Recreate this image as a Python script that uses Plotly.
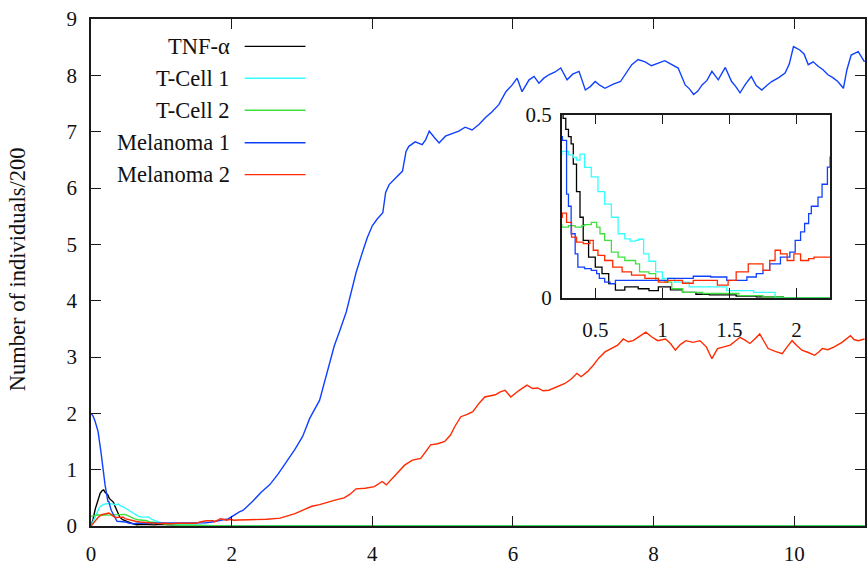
import plotly.graph_objects as go

# ---------------- data ----------------
t_tnf = [0, 0.03, 0.06, 0.1, 0.13, 0.16, 0.18, 0.2, 0.22, 0.24, 0.26, 0.28, 0.30, 0.32, 0.336,
         0.36, 0.386, 0.41, 0.45, 0.50, 0.55, 0.60, 0.65, 0.72, 0.82, 0.90, 0.97, 1.06, 1.15,
         1.25, 1.35, 1.45, 1.55, 1.7, 1.9, 2.5, 4, 6, 8, 11]
v_tnf = [0, 0.12, 0.3, 0.47, 0.58, 0.63, 0.64, 0.6, 0.58, 0.55, 0.49, 0.46, 0.44, 0.42, 0.365,
         0.29, 0.22, 0.157, 0.111, 0.084, 0.066, 0.039, 0.021, 0.03, 0.025, 0.02, 0.03, 0.022, 0.015,
         0.01, 0.008, 0.008, 0.005, 0.003, 0, 0, 0, 0, 0, 0]

t_tc1 = [0, 0.04, 0.08, 0.12, 0.16, 0.2, 0.25, 0.30, 0.336, 0.36, 0.386, 0.42, 0.47, 0.52, 0.57,
         0.62, 0.67, 0.72, 0.76, 0.80, 0.82, 0.86, 0.90, 0.95, 1.0, 1.09, 1.2, 1.48, 1.68, 1.84,
         2.5, 11]
v_tc1 = [0, 0.1, 0.22, 0.33, 0.37, 0.39, 0.40, 0.39, 0.383, 0.376, 0.392, 0.356, 0.33, 0.29, 0.256,
         0.22, 0.175, 0.161, 0.155, 0.157, 0.16, 0.12, 0.10, 0.071, 0.053, 0.043, 0.03, 0.02, 0.015, 0,
         0, 0]

t_tc2 = [0, 0.05, 0.1, 0.15, 0.2, 0.25, 0.30, 0.35, 0.40, 0.42, 0.47, 0.51, 0.535, 0.57, 0.62,
         0.67, 0.72, 0.80, 0.83, 0.90, 0.95, 1.02, 1.07, 1.15, 1.3, 1.57, 1.75, 1.9, 2.5, 11]
v_tc2 = [0.17, 0.18, 0.2, 0.19, 0.2, 0.193, 0.197, 0.193, 0.197, 0.2, 0.206, 0.193, 0.175, 0.157, 0.125,
         0.111, 0.102, 0.093, 0.071, 0.066, 0.048, 0.043, 0.025, 0.015, 0.012, 0.006, 0.003, 0, 0, 0]

t_mel1 = [0, 0.03, 0.06, 0.1, 0.14, 0.17, 0.2, 0.24, 0.255, 0.286, 0.30, 0.32, 0.35, 0.37, 0.42,
          0.47, 0.51, 0.53, 0.57, 0.61, 0.65, 0.8, 1.04, 1.23, 1.36, 1.48, 1.55, 1.63, 1.70, 1.75,
          1.80, 1.88, 1.95, 1.99, 2.03, 2.06, 2.09, 2.11, 2.16, 2.19, 2.23, 2.25,
          2.30, 2.42, 2.54, 2.66, 2.78, 2.90, 3.01, 3.11, 3.25, 3.32, 3.39, 3.46, 3.53, 3.63, 3.70,
          3.77, 3.86, 3.93, 4.0, 4.07, 4.15, 4.19, 4.24, 4.33, 4.43, 4.48, 4.52, 4.61, 4.71, 4.76,
          4.81, 4.88, 4.95, 5.04, 5.13, 5.23, 5.32, 5.42, 5.52, 5.61, 5.70, 5.80, 5.90, 5.99, 6.06,
          6.13, 6.23, 6.30, 6.37, 6.44, 6.51, 6.60, 6.68, 6.77, 6.85, 6.94, 7.03, 7.10, 7.17, 7.24,
          7.31, 7.42, 7.53, 7.61, 7.69, 7.78, 7.88, 7.97, 8.07, 8.16, 8.26, 8.35, 8.45, 8.51, 8.57,
          8.63, 8.69, 8.76, 8.83, 8.92, 9.02, 9.11, 9.17, 9.23, 9.31, 9.39, 9.46, 9.54, 9.61, 9.68,
          9.78, 9.87, 9.93, 9.99, 10.08, 10.14, 10.20, 10.27, 10.34, 10.41, 10.48, 10.55, 10.62,
          10.70, 10.75, 10.81, 10.91, 10.96, 11.0]
v_mel1 = [2.0, 1.95, 1.85, 1.68, 1.33, 1.03, 0.73, 0.44, 0.43, 0.283, 0.25, 0.175, 0.12, 0.084, 0.08,
          0.075, 0.066, 0.053, 0.043, 0.039, 0.048, 0.048, 0.053, 0.059, 0.057, 0.048, 0.048, 0.057, 0.066, 0.075,
          0.093, 0.111, 0.125, 0.157, 0.18, 0.203, 0.23, 0.25, 0.275, 0.31, 0.357, 0.384,
          0.44, 0.60, 0.73, 0.92, 1.14, 1.36, 1.59, 1.91, 2.23, 2.55, 2.91, 3.20, 3.44, 3.80, 4.15,
          4.50, 4.86, 5.12, 5.33, 5.45, 5.56, 5.92, 6.06, 6.18, 6.30, 6.65, 6.74, 6.82, 6.77, 6.86,
          7.01, 6.90, 6.80, 6.92, 6.96, 7.01, 7.08, 7.03, 7.13, 7.25, 7.35, 7.48, 7.71, 7.83, 7.95,
          7.71, 7.92, 7.98, 7.86, 7.95, 8.01, 8.06, 8.13, 7.92, 8.02, 8.07, 7.74, 7.80, 7.89, 7.82,
          7.77, 7.84, 7.89, 8.03, 8.19, 8.28, 8.24, 8.17, 8.22, 8.26, 8.19, 8.13, 7.83, 7.76, 7.66,
          7.72, 7.83, 7.91, 8.07, 7.92, 8.14, 7.89, 7.80, 7.69, 7.85, 7.98, 7.82, 7.74, 7.82, 7.89,
          7.96, 8.04, 8.20, 8.51, 8.45, 8.38, 8.19, 8.24, 8.16, 8.10, 8.01, 7.96, 7.89,
          7.77, 8.10, 8.36, 8.42, 8.33, 8.24]

t_mel2 = [0, 0.05, 0.1, 0.15, 0.2, 0.254, 0.286, 0.323, 0.36, 0.41, 0.46, 0.485, 0.52, 0.57, 0.63,
          0.70, 0.77, 0.87, 0.97, 1.04, 1.15, 1.23, 1.36, 1.41, 1.49, 1.55, 1.64, 1.74, 1.75, 1.80,
          1.84, 1.88, 1.93, 1.98, 2.03, 2.09, 2.13, 2.25,
          2.5, 2.69, 2.9, 3.02, 3.14, 3.25, 3.35, 3.47, 3.6, 3.68, 3.77, 3.90, 4.03, 4.14, 4.20, 4.33,
          4.46, 4.57, 4.69, 4.76, 4.83, 4.93, 5.03, 5.11, 5.18, 5.26, 5.35, 5.43, 5.52, 5.60, 5.68,
          5.75, 5.82, 5.89, 5.97, 6.08, 6.20, 6.28, 6.35, 6.43, 6.51, 6.62, 6.74, 6.83, 6.91, 6.97,
          7.06, 7.14, 7.22, 7.31, 7.40, 7.49, 7.57, 7.64, 7.71, 7.80, 7.89, 7.97, 8.06, 8.17, 8.24,
          8.31, 8.38, 8.46, 8.56, 8.66, 8.75, 8.83, 8.91, 9.00, 9.09, 9.16, 9.23, 9.30, 9.37, 9.44,
          9.51, 9.57, 9.63, 9.73, 9.83, 9.90, 9.97, 10.04, 10.11, 10.20, 10.29, 10.35, 10.40, 10.48,
          10.57, 10.68, 10.80, 10.85, 10.91, 11.0]
v_mel2 = [0, 0.08, 0.15, 0.2, 0.22, 0.231, 0.206, 0.166, 0.152, 0.148, 0.157, 0.13, 0.116, 0.102, 0.084,
          0.071, 0.062, 0.053, 0.043, 0.048, 0.04, 0.048, 0.048, 0.035, 0.048, 0.071, 0.093, 0.093, 0.075, 0.102,
          0.13, 0.12, 0.102, 0.12, 0.102, 0.107, 0.111, 0.111,
          0.12, 0.14, 0.22, 0.28, 0.35, 0.38, 0.42, 0.46, 0.50, 0.56, 0.66, 0.67, 0.70, 0.79, 0.73, 0.90,
          1.08, 1.17, 1.20, 1.32, 1.44, 1.46, 1.50, 1.61, 1.78, 1.94, 1.98, 2.03, 2.18, 2.29, 2.31,
          2.33, 2.38, 2.41, 2.29, 2.40, 2.50, 2.44, 2.45, 2.40, 2.41, 2.47, 2.53, 2.61, 2.71, 2.65,
          2.74, 2.85, 2.98, 3.09, 3.15, 3.21, 3.32, 3.27, 3.29, 3.36, 3.44, 3.36, 3.29, 3.32, 3.24,
          3.12, 3.22, 3.29, 3.26, 3.29, 3.18, 2.97, 3.15, 3.18, 3.21, 3.28, 3.35, 3.30, 3.24, 3.32,
          3.41, 3.28, 3.15, 3.10, 3.06, 3.18, 3.29, 3.20, 3.12, 3.08, 3.03, 3.09, 3.15, 3.13,
          3.18, 3.26, 3.38, 3.31, 3.29, 3.32]

names = ["TNF-\u03b1", "T-Cell 1", "T-Cell 2", "Melanoma 1", "Melanoma 2"]
colors = ["#000000", "#33ffff", "#3ee03e", "#1040ff", "#ff2a00"]
series_t = [t_tnf, t_tc1, t_tc2, t_mel1, t_mel2]
series_v = [v_tnf, v_tc1, v_tc2, v_mel1, v_mel2]

main_xticks = [0, 2, 4, 6, 8, 10]
main_yticks = [0, 1, 2, 3, 4, 5, 6, 7, 8, 9]
inset_xticks = [0.5, 1, 1.5, 2]
inset_xticklabels = ["0.5", "1", "1.5", "2"]
inset_yticks = [0, 0.5]
inset_yticklabels = ["0", "0.5"]

FONT = "Liberation Serif, Times New Roman, Times, serif"

fig = go.Figure()
for t, v, c, n in zip(series_t, series_v, colors, names):
    fig.add_trace(go.Scatter(x=t, y=v, mode="lines", line=dict(color=c, width=1.4),
                             name=n, showlegend=False, xaxis="x", yaxis="y"))
for t, v, c, n in zip(series_t, series_v, colors, names):
    fig.add_trace(go.Scatter(x=t, y=v, mode="lines", line=dict(color=c, width=1.3, shape="hv"),
                             name=n, showlegend=False, xaxis="x2", yaxis="y2"))

axcommon = dict(showgrid=False, zeroline=False, showline=True, linecolor="#1a1a1a",
                linewidth=1.6, ticks="inside", ticklen=10, tickwidth=1.2, tickcolor="#1a1a1a",
                mirror="allticks", tickfont=dict(family=FONT, size=21, color="#111"))

fig.update_layout(
    width=867, height=566,
    margin=dict(l=91, r=0, t=19, b=38),
    paper_bgcolor="white", plot_bgcolor="white",
    font=dict(family=FONT, size=21, color="#111"),
    xaxis=dict(range=[0, 11.007], tickvals=main_xticks, domain=[0, 1], anchor="y",
               ticklabelstandoff=8, **axcommon),
    yaxis=dict(range=[0, 9], tickvals=main_yticks, domain=[0, 1], anchor="x",
               ticklabelstandoff=8, **axcommon),
    xaxis2=dict(range=[0.25, 2.25], tickvals=inset_xticks, ticktext=inset_xticklabels,
                domain=[0.6082, 0.9549], anchor="y2", ticklabelstandoff=12, **axcommon),
    yaxis2=dict(range=[0, 0.5], tickvals=inset_yticks, ticktext=inset_yticklabels,
                domain=[0.4499, 0.8114], anchor="x2", ticklabelstandoff=4, **axcommon),
    showlegend=False,
)

# y-axis title
fig.add_annotation(text="Number of individuals/200", textangle=-90, xref="paper", yref="paper",
                   x=-0.094, y=0.507, xanchor="center", yanchor="middle", showarrow=False,
                   font=dict(family=FONT, size=22.5, color="#111"))

# legend (text left of line sample, gnuplot style)
legend_y = [0.946, 0.883, 0.820, 0.756, 0.693]
for n, c, yy in zip(names, colors, legend_y):
    fig.add_annotation(text=n, xref="paper", yref="paper", x=0.1817, y=yy, xanchor="right",
                       yanchor="middle", showarrow=False, font=dict(family=FONT, size=22.5, color="#111"))
    fig.add_shape(type="line", xref="paper", yref="paper", x0=0.1985, x1=0.2771, y0=yy, y1=yy,
                  line=dict(color=c, width=1.4))

fig.write_html("out.html")
